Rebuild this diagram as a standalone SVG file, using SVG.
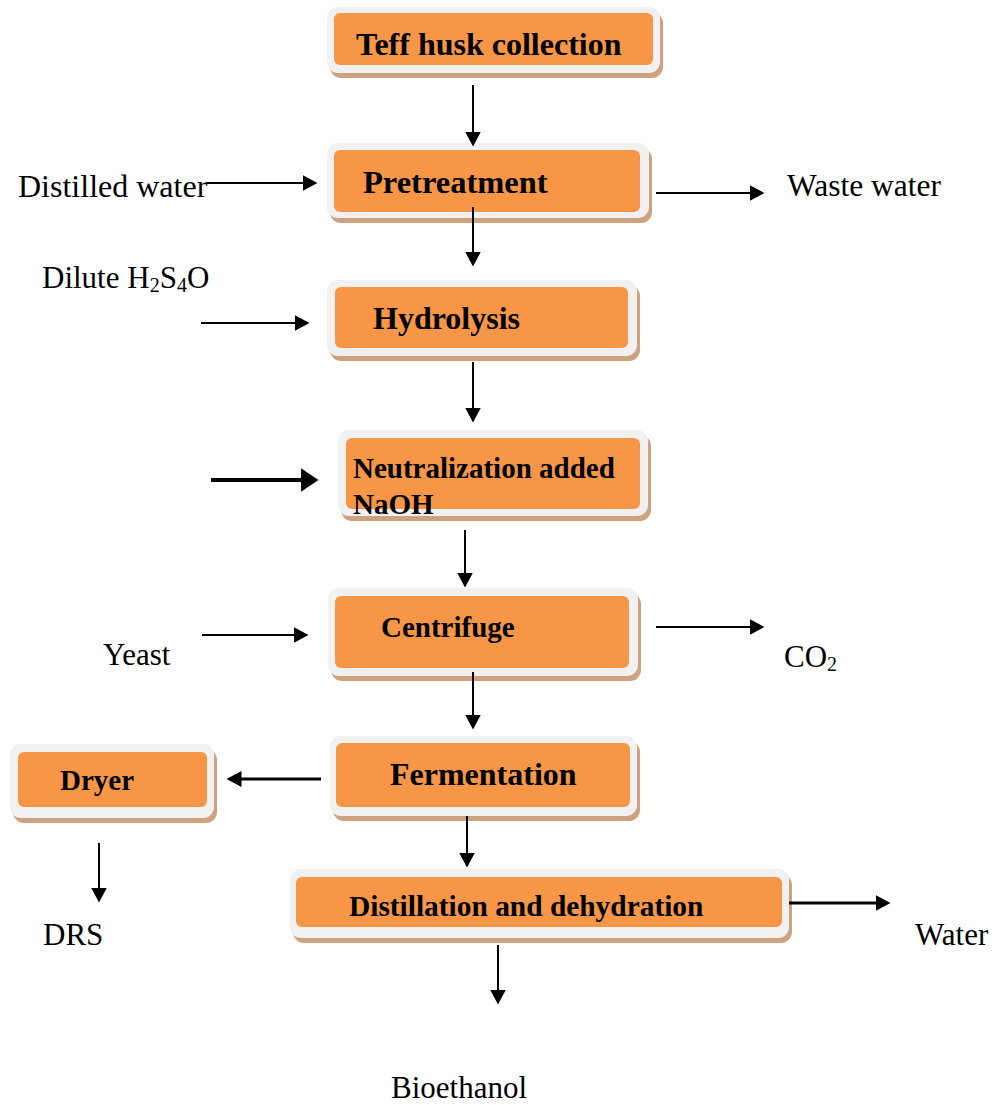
<svg xmlns="http://www.w3.org/2000/svg" width="995" height="1105" viewBox="0 0 995 1105">
<style>
.sh{fill:#CFA27F}
.ou{fill:#F1F1F1}
.in{fill:#F79646}
.bt{font-family:"Liberation Serif","Times New Roman",serif;font-weight:bold;fill:#000}
.pt{font-family:"Liberation Serif","Times New Roman",serif;fill:#000}
.ln{stroke:#000;fill:none}
.t2{stroke-width:2;marker-end:url(#ah)}
.t3{stroke-width:3;marker-end:url(#ah)}
.t4{stroke-width:4;marker-end:url(#ahb)}
</style>
<defs>
<marker id="ah" markerUnits="userSpaceOnUse" markerWidth="15" markerHeight="16" viewBox="0 0 15 16" refX="0.5" refY="8" orient="auto"><path d="M0,0 L15,8 L0,16 z" fill="#000"/></marker>
<marker id="ahb" markerUnits="userSpaceOnUse" markerWidth="18" markerHeight="24" viewBox="0 0 18 24" refX="0.5" refY="12" orient="auto"><path d="M0,0 L18,12 L0,24 z" fill="#000"/></marker>
<clipPath id="cpN"><rect x="330" y="420" width="330" height="95"/></clipPath>
</defs>
<rect width="995" height="1105" fill="#fff"/>

<g id="teff">
<rect class="sh" x="330" y="12" width="333" height="66" rx="11"/>
<rect class="ou" x="327" y="7" width="333" height="66" rx="11"/>
<rect class="in" x="334" y="13" width="319" height="52" rx="6"/>
<text class="bt" x="356" y="55" font-size="32">Teff husk collection</text>
</g>

<g id="pretreatment">
<rect class="sh" x="330" y="148" width="322" height="75" rx="11"/>
<rect class="ou" x="327" y="143" width="322" height="75" rx="11"/>
<rect class="in" x="334" y="150" width="306" height="62" rx="6"/>
<text class="bt" x="363" y="193" font-size="32.5">Pretreatment</text>
</g>

<g id="hydrolysis">
<rect class="sh" x="330" y="285" width="310" height="76" rx="11"/>
<rect class="ou" x="327" y="280" width="310" height="76" rx="11"/>
<rect class="in" x="335" y="287" width="293" height="61" rx="6"/>
<text class="bt" x="373" y="329" font-size="32">Hydrolysis</text>
</g>

<g id="neutralization">
<rect class="sh" x="341" y="435" width="310" height="86" rx="11"/>
<rect class="ou" x="338" y="430" width="310" height="86" rx="11"/>
<rect class="in" x="346" y="438" width="294" height="71" rx="6"/>
<g clip-path="url(#cpN)">
<text class="bt" x="353" y="478" font-size="29">Neutralization added</text>
<text class="bt" x="353" y="514" font-size="29">NaOH</text>
</g>
</g>

<g id="centrifuge">
<rect class="sh" x="331" y="593" width="310" height="88" rx="11"/>
<rect class="ou" x="328" y="588" width="310" height="88" rx="11"/>
<rect class="in" x="335" y="596" width="294" height="72" rx="6"/>
<text class="bt" x="381" y="637" font-size="29">Centrifuge</text>
</g>

<g id="fermentation">
<rect class="sh" x="333" y="741" width="307" height="80" rx="11"/>
<rect class="ou" x="330" y="736" width="307" height="80" rx="11"/>
<rect class="in" x="336" y="743" width="294" height="64" rx="6"/>
<text class="bt" x="390" y="785" font-size="32">Fermentation</text>
</g>

<g id="dryer">
<rect class="sh" x="13" y="749" width="204" height="74" rx="11"/>
<rect class="ou" x="10" y="744" width="204" height="74" rx="11"/>
<rect class="in" x="18" y="752" width="189" height="55" rx="6"/>
<text class="bt" x="60" y="790" font-size="29">Dryer</text>
</g>

<g id="distillation">
<rect class="sh" x="293" y="874" width="499" height="69" rx="11"/>
<rect class="ou" x="290" y="869" width="499" height="69" rx="11"/>
<rect class="in" x="296" y="877" width="486" height="50" rx="6"/>
<text class="bt" x="349" y="916" font-size="29.4">Distillation and dehydration</text>
</g>

<g id="labels">
<text class="pt" x="18" y="197" font-size="32">Distilled water</text>
<text class="pt" x="42" y="288" font-size="31">Dilute H<tspan font-size="20" dy="4">2</tspan><tspan dy="-4">S</tspan><tspan font-size="20" dy="4">4</tspan><tspan dy="-4">O</tspan></text>
<text class="pt" x="787" y="196" font-size="31.5">Waste water</text>
<text class="pt" x="103" y="665" font-size="31">Yeast</text>
<text class="pt" x="784" y="667" font-size="31">CO<tspan font-size="20" dy="4">2</tspan></text>
<text class="pt" x="43" y="945" font-size="31">DRS</text>
<text class="pt" x="915" y="945" font-size="31">Water</text>
<text class="pt" x="391" y="1098" font-size="31">Bioethanol</text>
</g>

<g id="connectors">
<line class="ln t2" x1="473" y1="85" x2="473" y2="132"/>
<line class="ln t2" x1="473" y1="207" x2="473" y2="252"/>
<line class="ln t2" x1="473" y1="362" x2="473" y2="408"/>
<line class="ln t2" x1="465" y1="530" x2="465" y2="573"/>
<line class="ln t2" x1="473" y1="672" x2="473" y2="715"/>
<line class="ln t2" x1="467" y1="816" x2="467" y2="853"/>
<line class="ln t2" x1="498" y1="945" x2="498" y2="990"/>
<line class="ln t2" x1="99" y1="843" x2="99" y2="888"/>
<line class="ln t2" x1="207" y1="183" x2="303" y2="183"/>
<line class="ln t2" x1="201" y1="323" x2="295" y2="323"/>
<line class="ln t2" x1="656" y1="193" x2="750" y2="193"/>
<line class="ln t2" x1="202" y1="635" x2="294" y2="635"/>
<line class="ln t2" x1="656" y1="627" x2="750" y2="627"/>
<line class="ln t3" x1="321" y1="779" x2="241" y2="779"/>
<line class="ln t3" x1="789" y1="903" x2="876" y2="903"/>
<line class="ln t4" x1="211" y1="480" x2="301" y2="480"/>
</g>
</svg>
